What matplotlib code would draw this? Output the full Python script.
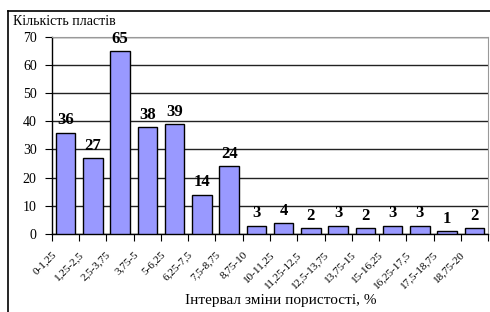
import matplotlib
matplotlib.use("Agg")
from matplotlib import pyplot as plt
from matplotlib.lines import Line2D
from matplotlib.transforms import ScaledTranslation

plt.rcParams["font.family"] = ["Liberation Serif", "DejaVu Serif"]

# Data
intervals = [
    "0-1,25", "1,25-2,5", "2,5-3,75", "3,75-5", "5-6,25", "6,25-7,5",
    "7,5-8,75", "8,75-10", "10-11,25", "11,25-12,5", "12,5-13,75",
    "13,75-15", "15-16,25", "16,25-17,5", "17,5-18,75", "18,75-20",
]
counts = [36, 27, 65, 38, 39, 14, 24, 3, 4, 2, 3, 2, 3, 3, 1, 2]
y_ticks = [0, 10, 20, 30, 40, 50, 60, 70]

fig = plt.figure(figsize=(4.9, 3.12), dpi=100)
ax = fig.add_axes([0.106, 0.25, 0.89, 0.632])

x = list(range(len(counts)))
ax.bar(x, counts, width=0.72, color="#9999FF", edgecolor="black",
       linewidth=1.0, zorder=3)

for xi, v in zip(x, counts):
    ax.annotate(str(v), (xi, v), xytext=(0, 3), textcoords="offset points",
                ha="center", va="bottom", fontsize=12, fontweight="bold")

ax.set_xlim(-0.5, len(counts) - 0.5)
ax.set_ylim(0, 70)
ax.set_yticks(y_ticks)
ax.tick_params(axis="y", labelsize=10, length=5, direction="out", pad=6)
ax.yaxis.grid(True, color="#222222", linewidth=1.0, zorder=0)

# category boundaries get the tick marks, labels sit under the bars
ax.set_xticks([i - 0.5 for i in range(len(counts) + 1)])
ax.set_xticklabels([])
ax.tick_params(axis="x", length=5, direction="out")
ax.set_xticks(x, minor=True)
ax.set_xticklabels(intervals, minor=True, rotation=45, ha="right",
                   va="center", rotation_mode="anchor", fontsize=8)
ax.tick_params(axis="x", which="minor", length=0, pad=0)
shift = ScaledTranslation(-0.11, -0.19, fig.dpi_scale_trans)
for lbl in ax.get_xticklabels(minor=True):
    lbl.set_transform(lbl.get_transform() + shift)

for side in ["top", "right"]:
    ax.spines[side].set_color("#999999")
ax.spines["left"].set_linewidth(1.0)
ax.spines["bottom"].set_linewidth(1.0)

fig.text(0.027, 0.93, "Кількість пластів", fontsize=10, ha="left", va="center")
fig.text(0.573, 0.038, "Інтервал зміни пористості, %", fontsize=11,
         ha="center", va="center")

# outer chart border (top and left edges visible)
fig.add_artist(Line2D([0.016, 1.0], [0.965, 0.965], color="black",
                      linewidth=1.2, transform=fig.transFigure))
fig.add_artist(Line2D([0.016, 0.016], [0.0, 0.965], color="black",
                      linewidth=1.2, transform=fig.transFigure))

fig.savefig("out.png", dpi=100)
